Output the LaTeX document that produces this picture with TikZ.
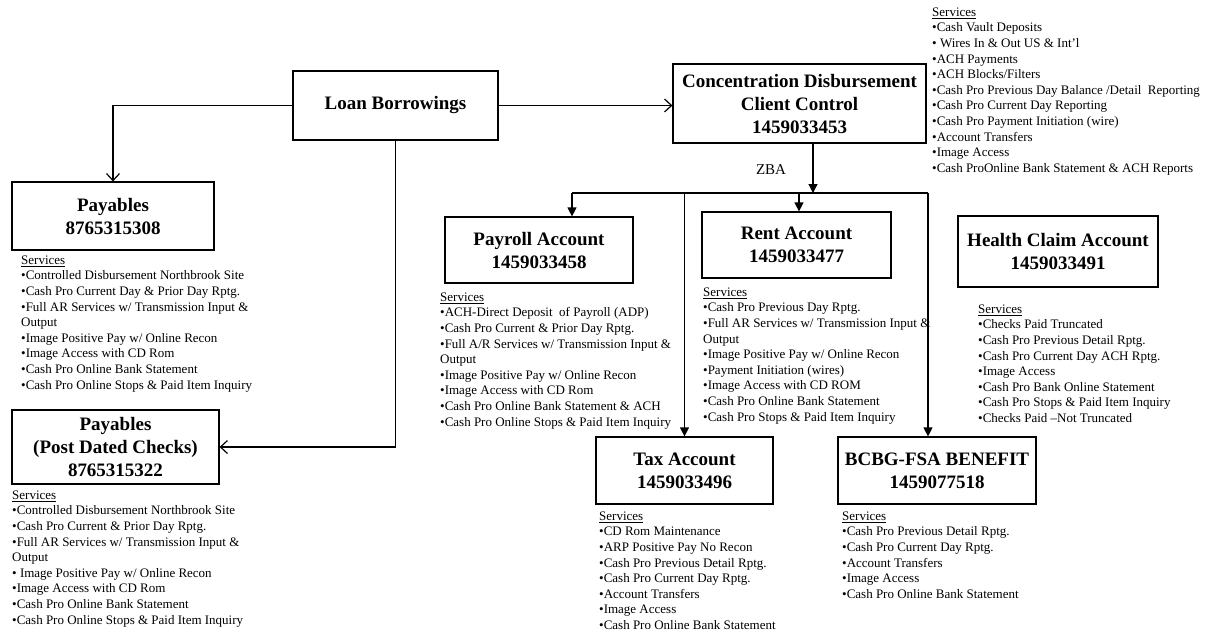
\documentclass[tikz,border=0pt]{standalone}
\usepackage{fontspec}
\setmainfont{Liberation Serif}
\usetikzlibrary{arrows.meta}
\newcommand\svclist[4]{%
  \node[svc] (#1-0) at (#2,#3+4.3) {\underline{Services}};
  \foreach \t [count=\i] in {#4} {\node[svc] (#1-\i) at (#2,#3+4.3+15.6*\i) {\t};}
}
\begin{document}
\begin{tikzpicture}[x=1pt,y=-1pt,
  box/.style={draw, line width=1.2pt, inner sep=0pt, align=center, font=\fontsize{19}{23}\selectfont\bfseries},
  svc/.style={inner sep=0pt, font=\fontsize{13}{15.6}\selectfont, anchor=base west},
  conn/.style={line width=1.2pt},
  openarrow/.style={conn, -{Straight Barb[length=7pt,width=13pt,line width=1.2pt]}},
  fillarrow/.style={conn, -{Triangle[length=9pt,width=9pt]}},
]
\useasboundingbox (0,0) rectangle (1210,635);

% boxes
\node[box, minimum width=205pt, minimum height=69pt] (loan) at (395.5,105.5) {Loan Borrowings};
\node[box, minimum width=253pt, minimum height=79pt] (conc) at (799.5,103.5) {Concentration Disbursement\\Client Control\\1459033453};
\node[box, minimum width=202pt, minimum height=68pt] (pay1) at (113,216) {Payables\\8765315308};
\node[box, minimum width=207pt, minimum height=74pt] (pay2) at (115.5,447) {Payables\\(Post Dated Checks)\\8765315322};
\node[box, minimum width=188pt, minimum height=66pt] (payroll) at (539,250) {Payroll Account\\1459033458};
\node[box, minimum width=189pt, minimum height=66pt] (rent) at (796.5,245) {Rent Account\\1459033477};
\node[box, minimum width=200pt, minimum height=71pt] (health) at (1058,251.5) {Health Claim Account\\1459033491};
\node[box, minimum width=177pt, minimum height=67pt] (tax) at (684.5,470.5) {Tax Account\\1459033496};
\node[box, minimum width=198pt, minimum height=67pt] (bcbg) at (937,470.5) {BCBG-FSA BENEFIT\\1459077518};

% connectors
\draw[openarrow] (loan.west) -| (pay1.north);
\draw[openarrow] (loan.south) |- (pay2.east);
\draw[openarrow] (loan.east) -- (loan.east -| conc.west);

\coordinate (zba) at (813,193);
\coordinate (busL) at (572,193);
\coordinate (busR) at (928,193);
\coordinate (busRent) at (799,193);
\draw[fillarrow] (conc.south -| zba) -- (zba);
\draw[conn] (busL) -- (busR);
\draw[fillarrow] (busL) -- (busL |- payroll.north);
\draw[fillarrow] (busRent) -- (busRent |- rent.north);
\draw[fillarrow] (tax.north |- busL) -- (tax.north);
\draw[fillarrow] (busR) -- (busR |- bcbg.north);
\node[font=\fontsize{15}{18}\selectfont] (zbalbl) at (771,170) {ZBA};

% services lists
\svclist{sc}{932}{12}{•Cash Vault Deposits, • Wires In \& Out US \& Int’l, •ACH Payments, •ACH Blocks/Filters, •Cash Pro Previous Day Balance /Detail\ \ Reporting, •Cash Pro Current Day Reporting, •Cash Pro Payment Initiation (wire), •Account Transfers, •Image Access, •Cash ProOnline Bank Statement \& ACH Reports}

\svclist{sp1}{21}{260}{•Controlled Disbursement Northbrook Site, •Cash Pro Current Day \& Prior Day Rptg., •Full AR Services w/ Transmission Input \&, Output, •Image Positive Pay w/ Online Recon, •Image Access with CD Rom, •Cash Pro Online Bank Statement, •Cash Pro Online Stops \& Paid Item Inquiry}

\svclist{sp2}{12}{495}{•Controlled Disbursement Northbrook Site, •Cash Pro Current \& Prior Day Rptg., •Full AR Services w/ Transmission Input \&, Output, • Image Positive Pay w/ Online Recon, •Image Access with CD Rom, •Cash Pro Online Bank Statement, •Cash Pro Online Stops \& Paid Item Inquiry}

\svclist{spr}{440}{297}{•ACH-Direct Deposit\ \ of Payroll (ADP), •Cash Pro Current \& Prior Day Rptg., •Full A/R Services w/ Transmission Input \&, Output, •Image Positive Pay w/ Online Recon, •Image Access with CD Rom, •Cash Pro Online Bank Statement \& ACH, •Cash Pro Online Stops \& Paid Item Inquiry}

\svclist{sre}{703}{292}{•Cash Pro Previous Day Rptg., •Full AR Services w/ Transmission Input \&, Output, •Image Positive Pay w/ Online Recon, •Payment Initiation (wires), •Image Access with CD ROM, •Cash Pro Online Bank Statement, •Cash Pro Stops \& Paid Item Inquiry}

\svclist{sh}{978}{309}{•Checks Paid Truncated, •Cash Pro Previous Detail Rptg., •Cash Pro Current Day ACH Rptg., •Image Access, •Cash Pro Bank Online Statement, •Cash Pro Stops \& Paid Item Inquiry, •Checks Paid –Not Truncated}

\svclist{st}{599}{516}{•CD Rom Maintenance, •ARP Positive Pay No Recon, •Cash Pro Previous Detail Rptg., •Cash Pro Current Day Rptg., •Account Transfers, •Image Access, •Cash Pro Online Bank Statement}

\svclist{sb}{842}{516}{•Cash Pro Previous Detail Rptg., •Cash Pro Current Day Rptg., •Account Transfers, •Image Access, •Cash Pro Online Bank Statement}
\end{tikzpicture}
\end{document}
